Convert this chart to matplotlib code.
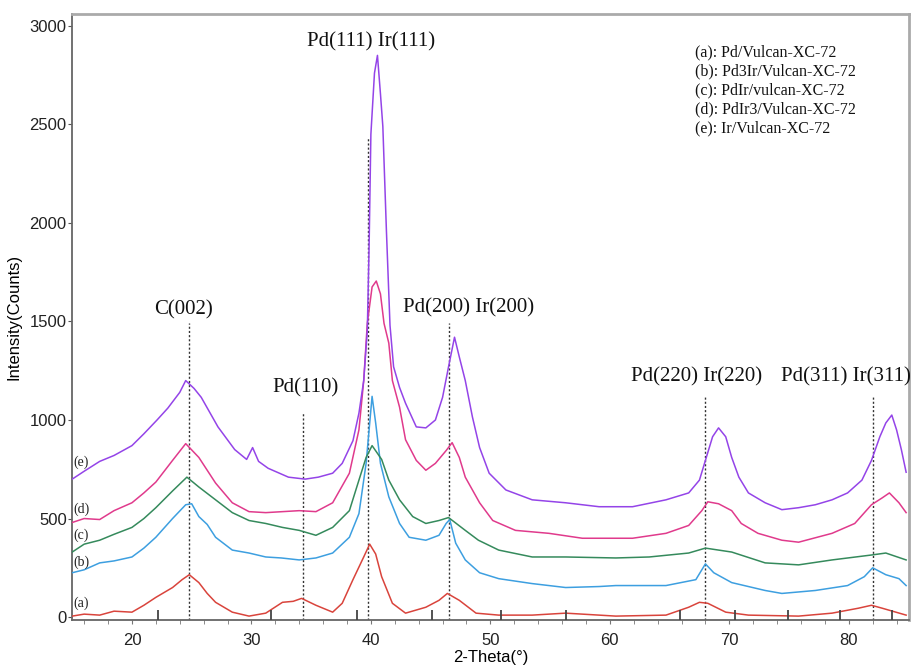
import matplotlib
matplotlib.use("Agg")
import matplotlib.pyplot as plt

# ---------------- data ----------------
x_a = [15, 16, 17.3, 18.5, 20, 21, 22, 23.4, 24.2, 24.8, 25.6, 26.3, 27, 28.4, 29.8, 31.2, 32.6, 33.5,
       34.2, 35.4, 36.8, 37.6, 38.5, 39.4, 39.9, 40.4, 40.9, 41.8, 42.9, 44.6, 45.7, 46.4, 47.4, 48.8,
       50.7, 53.5, 56.3, 60.5, 64.7, 66.6, 67.5, 68.2, 69.7, 71.6, 75.8, 78.6, 80.8, 81.9, 82.8, 84.8]
y_a = [5, 15, 10, 30, 25, 60, 100, 150, 190, 215, 175, 120, 75, 25, 5, 20, 75, 80,
       95, 60, 25, 70, 190, 305, 370, 320, 205, 70, 20, 50, 85, 120, 85, 20,
       10, 10, 20, 5, 10, 50, 75, 70, 25, 10, 5, 20, 45, 60, 45, 10]

x_b = [15, 16, 17.3, 18.5, 20, 21, 22, 23.4, 24.5, 25.0, 25.6, 26.3, 27, 28.4, 29.8, 31.2, 32.5, 34.0,
       35.4, 36.8, 38.2, 39.0, 39.6, 40.1, 40.4, 40.8, 41.5, 42.4, 43.2, 44.6, 45.7, 46.3, 46.6, 47.1,
       47.9, 49.1, 50.7, 53.5, 56.3, 59.1, 60.5, 64.7, 67.2, 68.0, 68.7, 70.2, 73.0, 74.4, 77.2, 79.9,
       81.3, 82.0, 83.1, 84.2, 84.8]
y_b = [225, 240, 275, 285, 305, 350, 405, 500, 570, 575, 510, 470, 405, 340, 325, 305, 300, 290,
       300, 325, 405, 525, 780, 1120, 985, 780, 610, 475, 405, 390, 415, 475, 495, 375,
       290, 225, 195, 170, 150, 155, 160, 160, 190, 270, 225, 175, 135, 120, 135, 160,
       205, 250, 215, 195, 160]

x_c = [15, 16, 17.3, 18.5, 20, 21, 22, 23.4, 24.6, 25.6, 27, 28.4, 29.8, 31.2, 32.6, 34.0, 35.4, 36.8,
       38.2, 39.0, 39.6, 40.1, 40.9, 41.5, 42.4, 43.5, 44.6, 45.7, 46.5, 47.9, 49.0, 50.7, 53.5, 56.3,
       60.5, 63.3, 66.6, 68.0, 70.2, 73.0, 75.8, 78.6, 81.9, 83.1, 84.8]
y_c = [330, 370, 390, 420, 455, 500, 555, 640, 710, 660, 595, 530, 490, 475, 455, 440, 415, 455,
       540, 695, 810, 870, 800, 695, 595, 510, 475, 490, 505, 440, 390, 340, 305, 305,
       300, 305, 325, 350, 330, 275, 265, 290, 315, 325, 290]

x_d = [15, 16, 17.3, 18.5, 20, 21, 22, 23.4, 24.5, 25.6, 27, 28.4, 29.8, 31.2, 34.0, 35.4, 36.8, 38.2,
       39.0, 39.4, 39.7, 40.1, 40.45, 40.8, 41.1, 41.5, 41.8, 42.4, 42.9, 43.8, 44.6, 45.4, 46.3, 46.8,
       47.4, 47.9, 49.1, 50.2, 52.1, 54.9, 57.7, 61.9, 64.7, 66.6, 67.7, 68.2, 69.1, 70.2, 71.0, 72.4,
       74.4, 75.8, 78.6, 80.5, 81.9, 82.8, 83.4, 84.2, 84.8]
y_d = [480, 500, 495, 540, 580, 630, 685, 795, 880, 810, 680, 580, 535, 530, 540, 535, 580, 730,
       950, 1200, 1490, 1675, 1705, 1640, 1490, 1390, 1200, 1065, 900, 795, 745, 780, 845, 885,
       810, 710, 580, 490, 440, 425, 400, 400, 425, 465, 540, 585, 575, 540, 475, 425,
       390, 380, 425, 475, 570, 605, 630, 580, 530]

x_e = [15, 16, 17.3, 18.5, 20, 21, 22.1, 23, 24.0, 24.5, 25.2, 25.8, 27.2, 28.6, 29.6, 30.1, 30.6, 31.4,
       33.1, 34.5, 35.6, 36.8, 37.6, 38.5, 39.0, 39.4, 39.7, 39.85, 40.0, 40.3, 40.55, 40.8, 41.0, 41.3,
       41.6, 41.9, 42.4, 42.9, 43.8, 44.6, 45.4, 46.0, 46.5, 47.0, 47.4, 47.9, 48.5, 49.1, 49.9, 51.3,
       53.5, 56.3, 59.1, 61.9, 64.7, 66.6, 67.5, 68.0, 68.6, 69.1, 69.7, 70.2, 70.8, 71.6, 73.0, 74.4,
       75.8, 77.2, 78.6, 79.9, 81.1, 81.9, 82.6, 83.1, 83.6, 84.0, 84.4, 84.8]
y_e = [700, 740, 790, 820, 870, 930, 1000, 1060, 1140, 1200, 1160, 1115, 965, 850, 800, 860, 790, 755,
       710, 700, 710, 730, 780, 895, 1035, 1200, 1455, 1880, 2450, 2760, 2850, 2655, 2490, 1960,
       1480, 1270, 1165, 1085, 965, 960, 1000, 1115, 1270, 1420, 1320, 1200, 1015, 860, 730, 645,
       595, 580, 560, 560, 595, 630, 695, 795, 915, 960, 915, 810, 710, 630, 580, 545,
       555, 570, 595, 630, 695, 795, 915, 985, 1025, 950, 850, 735]

curve_tags = ["(a)", "(b)", "(c)", "(d)", "(e)"]
curve_tag_y = [70, 280, 415, 545, 785]
legend_lines = ["(a): Pd/Vulcan-XC-72", "(b): Pd3Ir/Vulcan-XC-72", "(c): PdIr/vulcan-XC-72",
                "(d): PdIr3/Vulcan-XC-72", "(e): Ir/Vulcan-XC-72"]

ref_pos = [24.8, 34.3, 39.8, 46.5, 68.0, 82.0]
ref_top = [1490, 1040, 2430, 1490, 1125, 1125]
peak_labels = ["C(002)", "Pd(110)", "Pd(111) Ir(111)", "Pd(200) Ir(200)", "Pd(220) Ir(220)", "Pd(311) Ir(311)"]
peak_label_x = [24.3, 34.5, 40.0, 48.2, 67.3, 79.8]
peak_label_y = [1560, 1165, 2920, 1570, 1220, 1220]

stick_pos = [22.2, 31.6, 38.8, 45.1, 50.9, 56.3, 65.9, 70.5, 74.9, 79.3, 83.6]

# ---------------- figure ----------------
fig = plt.figure(figsize=(9.14, 6.66), dpi=100)
ax = fig.add_axes([0.079, 0.069, 0.915, 0.910])

colors = ["#d9443c", "#3d9fe0", "#358a5c", "#e03a8c", "#9444e8"]
series = [(x_a, y_a), (x_b, y_b), (x_c, y_c), (x_d, y_d), (x_e, y_e)]
for (xs, ys), c in zip(series, colors):
    ax.plot(xs, ys, color=c, lw=1.1, zorder=3)

for xp, top in zip(ref_pos, ref_top):
    ax.plot([xp, xp], [-15, top], color="#333333", lw=1.0, ls=(0, (1.5, 1.5)), zorder=2)

ax.vlines(stick_pos, 0, 0.017, transform=ax.get_xaxis_transform(), color="#444444", lw=1.3, zorder=4)

serif = ["Liberation Serif", "DejaVu Serif"]
sans = ["Liberation Sans", "DejaVu Sans"]

for t, xl, yl in zip(peak_labels, peak_label_x, peak_label_y):
    ax.text(xl, yl, t, ha="center", va="center", fontsize=15, family=serif, color="#111111")

for t, yl in zip(curve_tags, curve_tag_y):
    ax.text(15.1, yl, t, ha="left", va="center", fontsize=10, family=serif, color="#222222")

for i, t in enumerate(legend_lines):
    fig.text(695 / 914, 1 - (52 + i * 19) / 666, t, ha="left", va="center", fontsize=11.5,
             family=serif, color="#111111")

ax.set_xlim(15, 85)
ax.set_ylim(-15, 3060)
ax.set_xticks([20, 30, 40, 50, 60, 70, 80])
ax.set_xticks(range(16, 85, 2), minor=True)
ax.set_yticks([0, 500, 1000, 1500, 2000, 2500, 3000])
ax.tick_params(axis="x", which="both", direction="out", length=3, color="#777777",
               labelsize=12, pad=6)
ax.tick_params(axis="y", which="major", direction="out", length=3, color="#555555", labelsize=12, pad=1)
for lab in ax.get_xticklabels() + ax.get_yticklabels():
    lab.set_family(sans)
    lab.set_color("#222222")

ax.set_xlabel("2-Theta(°)", fontsize=12, family=sans, labelpad=2)
ax.set_ylabel("Intensity(Counts)", fontsize=12, family=sans, labelpad=6)

for s in ["left", "bottom"]:
    ax.spines[s].set_color("#666666")
    ax.spines[s].set_linewidth(1.3)
for s in ["top", "right"]:
    ax.spines[s].set_color("#aaaaaa")
    ax.spines[s].set_linewidth(2.0)

fig.savefig("out.png", dpi=100)
